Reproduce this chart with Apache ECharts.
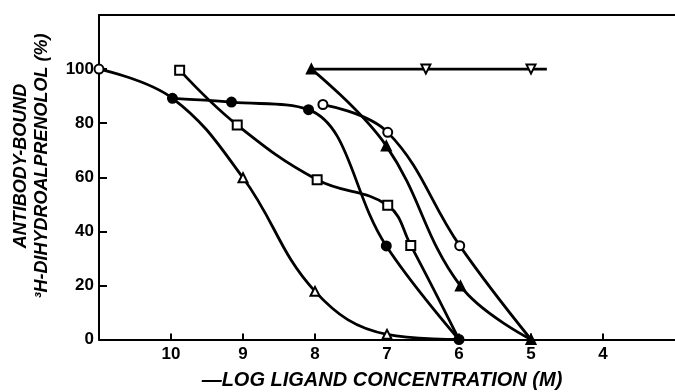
<!DOCTYPE html>
<html><head><meta charset="utf-8">
<script src="https://cdn.jsdelivr.net/npm/echarts@6/dist/echarts.min.js"></script>
<style>html,body{margin:0;padding:0;background:#fff}#c{width:675px;height:392px}</style>
</head><body><div id="c"></div>
<script>
// -log ligand concentration (M) vs antibody-bound 3H-dihydroalprenolol (%)
const xTicks = [4, 5, 6, 7, 8, 9, 10];
const yTicks = [0, 20, 40, 60, 80, 100];
const openTriangle = [[11, 100], [9.98, 89.2], [9.0, 59.8], [8.0, 17.8], [7.0, 1.9], [6.0, 0]];
const filledCircle = [[9.98, 89.2], [9.16, 87.8], [8.09, 85.0], [7.01, 34.6], [6.0, 0]];
const openSquare = [[9.88, 99.6], [9.08, 79.3], [7.97, 59.1], [6.99, 49.6], [6.67, 34.8], [6.0, 0]];
const openCircle = [[7.89, 86.9], [6.99, 76.6], [5.99, 34.7], [5.0, 0]];
const filledTriangle = [[8.05, 100], [7.01, 71.6], [5.98, 19.8], [5.0, 0]];
const invTriangle = [[8.05, 100], [6.46, 100], [5.0, 100], [4.78, 100]];

const FONT = 'Liberation Sans';
const LW = 2.8;
function mk(data, symbol, filled, opts) {
  opts = opts || {};
  return {
    type: 'line', smooth: opts.smooth === undefined ? 0.4 : opts.smooth,
    data: data.map((d, i) => {
      const item = { value: d };
      if (opts.noSym && opts.noSym.indexOf(i) >= 0) item.symbol = 'none';
      if (opts.sym && opts.sym[i]) { item.symbol = opts.sym[i]; }
      return item;
    }),
    symbol: symbol, symbolSize: opts.size || 9, symbolRotate: opts.rot || 0,
    showSymbol: true,
    lineStyle: { color: '#000', width: LW },
    itemStyle: { color: filled ? '#000' : '#fff', borderColor: '#000', borderWidth: 2 },
    z: opts.z || 2, animation: false, silent: true
  };
}

const chart = echarts.init(document.getElementById('c'), null, { renderer: 'canvas' });
chart.setOption({
  animation: false,
  grid: { left: 99, top: 15, width: 581, bottom: 52.5 },
  xAxis: [{
    type: 'value', inverse: true, min: 3, max: 11, interval: 1,
    axisLine: { lineStyle: { color: '#000', width: 2 } },
    axisTick: { inside: true, length: 6, lineStyle: { color: '#000', width: 2 }, customValues: xTicks },
    axisLabel: { color: '#000', fontFamily: FONT, fontWeight: 'bold', fontSize: 17, margin: 6, customValues: xTicks },
    splitLine: { show: false }
  }, {
    type: 'value', position: 'top', inverse: true, min: 3, max: 11,
    axisLine: { show: true, lineStyle: { color: '#000', width: 2 } },
    axisTick: { show: false }, axisLabel: { show: false }, splitLine: { show: false }
  }],
  yAxis: {
    type: 'value', min: 0, max: 120, interval: 20,
    axisLine: { show: true, lineStyle: { color: '#000', width: 2 } },
    axisTick: { show: true, inside: true, length: 8, lineStyle: { color: '#000', width: 2 }, customValues: yTicks },
    axisLabel: { color: '#000', fontFamily: FONT, fontWeight: 'bold', fontSize: 17, margin: 5, customValues: yTicks },
    splitLine: { show: false }
  },
  graphic: [{
    type: 'text', x: 32, y: 166, rotation: Math.PI / 2,
    style: { text: 'ANTIBODY-BOUND\n³H-DIHYDROALPRENOLOL (%)', font: 'italic bold 18px ' + FONT,
      fill: '#000', textAlign: 'center', textVerticalAlign: 'middle', lineHeight: 21 }
  }, {
    type: 'text', x: 382, y: 380,
    style: { text: '—LOG LIGAND CONCENTRATION (M)', font: 'italic bold 20px ' + FONT,
      fill: '#000', textAlign: 'center', textVerticalAlign: 'middle' }
  }],
  series: [
    mk(openTriangle, 'triangle', false, { sym: { 0: 'circle' }, noSym: [1, 5] }),
    mk(filledCircle, 'circle', true, { z: 4 }),
    mk(openSquare, 'rect', false, { noSym: [5], size: 9 }),
    mk(openCircle, 'circle', false, { noSym: [3] }),
    mk(filledTriangle, 'triangle', true, { z: 4 }),
    mk(invTriangle, 'triangle', false, { rot: 180, noSym: [0, 3], smooth: false })
  ]
});
</script></body></html>
